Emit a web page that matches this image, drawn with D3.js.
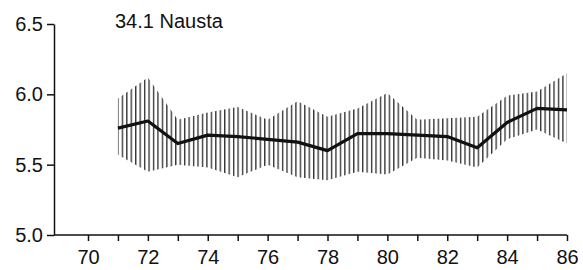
<!DOCTYPE html>
<html>
<head>
<meta charset="utf-8">
<script src="https://cdn.jsdelivr.net/npm/d3@7"></script>
<style>
  html, body { margin: 0; padding: 0; background: #fff; }
  svg { display: block; }
  text { font-family: "Liberation Sans", Arial, sans-serif; fill: #111; }
  .axis path, .axis line { stroke: #111; stroke-width: 1.5; }
  .axis text { font-size: 20px; }
</style>
</head>
<body>
<div id="chart"></div>
<script>
// DATA //

const title = '34.1 Nausta';
const years = [71, 72, 73, 74, 75, 76, 77, 78, 79, 80, 81, 82, 83, 84, 85, 86];
const mean  = [5.76, 5.81, 5.65, 5.71, 5.70, 5.68, 5.66, 5.60, 5.72, 5.72, 5.71, 5.70, 5.62, 5.80, 5.90, 5.89];
const upper = [5.97, 6.12, 5.82, 5.87, 5.91, 5.82, 5.95, 5.84, 5.90, 6.01, 5.82, 5.83, 5.84, 5.99, 6.02, 6.15];
const lower = [5.57, 5.45, 5.50, 5.48, 5.41, 5.50, 5.41, 5.39, 5.45, 5.43, 5.55, 5.53, 5.48, 5.68, 5.75, 5.65];
const yTicks = [5.0, 5.5, 6.0, 6.5];
const xTicks = d3.range(70, 87);

// SETUP //

const width = 583;
const height = 270;

const svg = d3.select('#chart').append('svg')
  .attr('width', width)
  .attr('height', height);

const x = d3.scaleLinear().domain([70, 86]).range([88, 567]);
const y = d3.scaleLinear().domain([5.0, 6.5]).range([235, 24]);
const axisX = 54; // position of the y axis

// Vertical hatching used to fill the band
const defs = svg.append('defs');
const hatch = defs.append('pattern')
  .attr('id', 'hatch')
  .attr('patternUnits', 'userSpaceOnUse')
  .attr('x', x(years[0]) - 0.7)
  .attr('width', 4.45)
  .attr('height', 10);
hatch.append('line')
  .attr('x1', 0.7).attr('x2', 0.7)
  .attr('y1', 0).attr('y2', 10)
  .attr('stroke', '#222')
  .attr('stroke-width', 1.25);

const rows = years.map((yr, i) => ({ yr, m: mean[i], hi: upper[i], lo: lower[i] }));

// BAND //

const area = d3.area()
  .x(d => x(d.yr))
  .y0(d => y(d.lo))
  .y1(d => y(d.hi));

svg.append('path')
  .datum(rows)
  .attr('d', area)
  .attr('fill', 'url(#hatch)');

// MEAN LINE //

const line = d3.line()
  .x(d => x(d.yr))
  .y(d => y(d.m));

svg.append('path')
  .datum(rows)
  .attr('d', line)
  .attr('fill', 'none')
  .attr('stroke', '#111')
  .attr('stroke-width', 3.2)
  .attr('stroke-linejoin', 'round');

// AXES //

const gy = svg.append('g')
  .attr('class', 'axis')
  .attr('transform', `translate(${axisX},0)`)
  .call(d3.axisLeft(y)
    .tickValues(yTicks)
    .tickFormat(d3.format('.1f'))
    .tickSize(7)
    .tickSizeOuter(0)
    .tickPadding(4));

const gx = svg.append('g')
  .attr('class', 'axis')
  .attr('transform', `translate(0,${y(5.0)})`)
  .call(d3.axisBottom(x)
    .tickValues(xTicks)
    .tickFormat(d => d % 2 === 0 ? d : '')
    .tickSize(6)
    .tickSizeOuter(0)
    .tickPadding(9));

// x baseline runs from the y axis to the last tick
gx.select('.domain').remove();
gx.append('line')
  .attr('x1', axisX)
  .attr('x2', x(86))
  .attr('stroke', '#111')
  .attr('stroke-width', 1.5);

// TITLE //

svg.append('text')
  .attr('x', 115)
  .attr('y', 28)
  .style('font-size', '20px')
  .text(title);
</script>
</body>
</html>
